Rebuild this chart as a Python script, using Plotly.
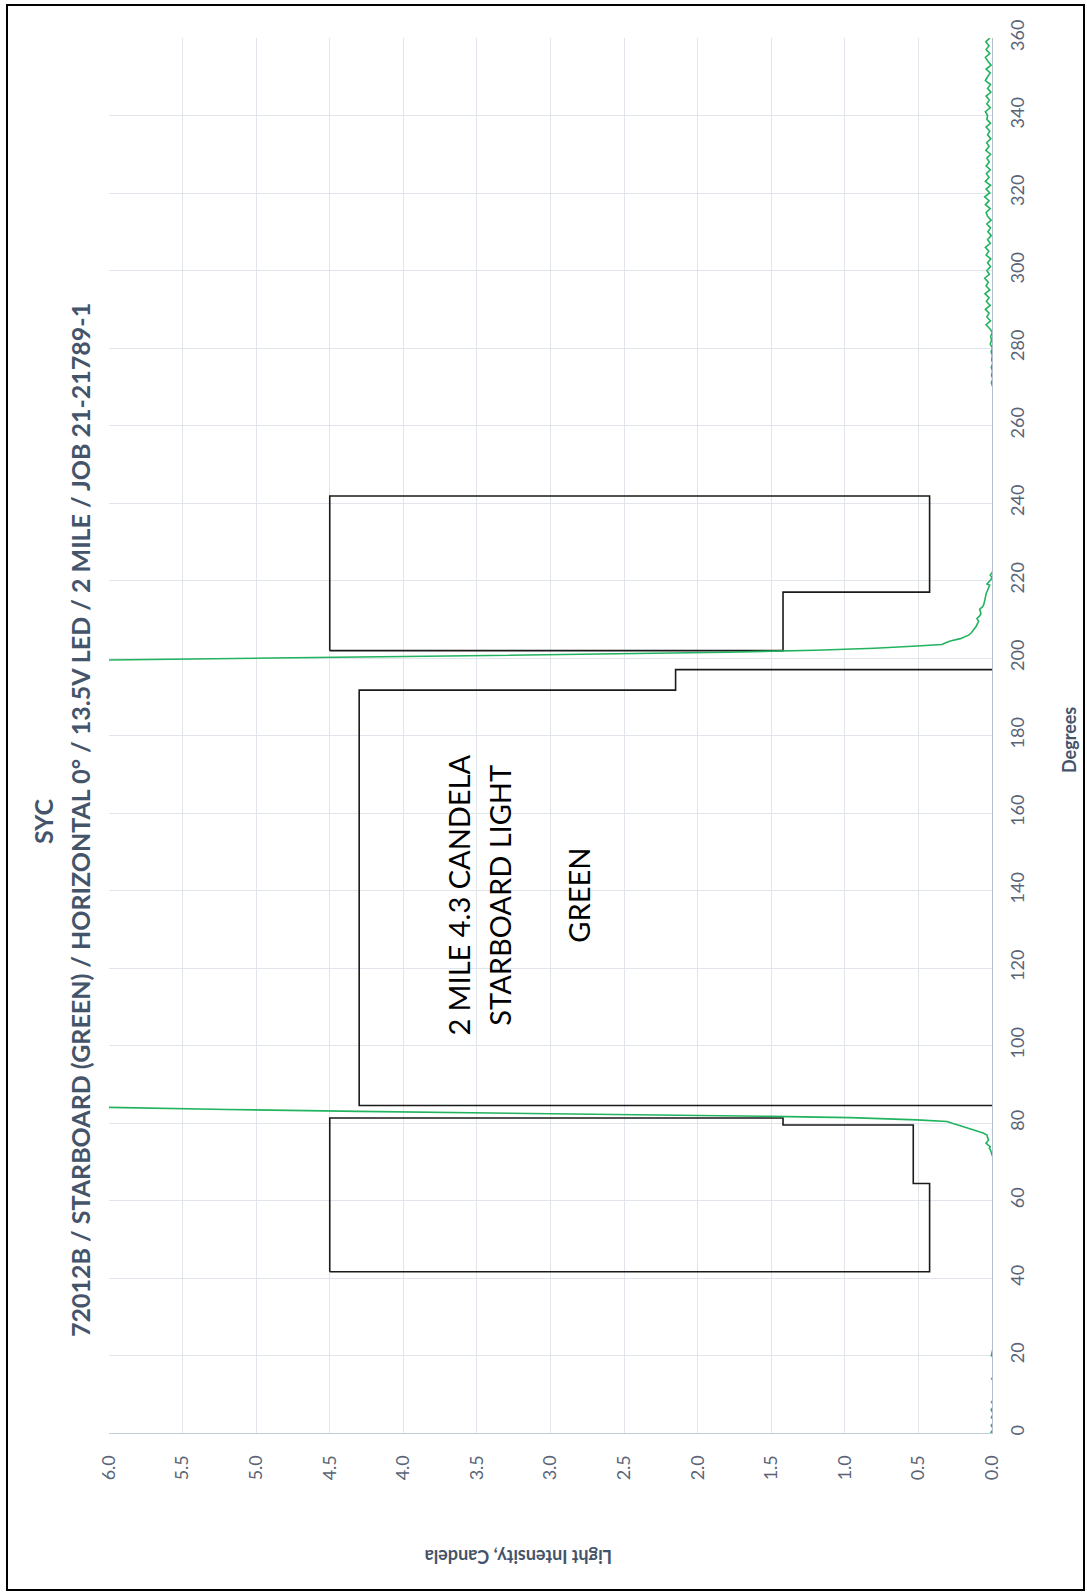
import plotly.graph_objects as go

# ---------------- data ----------------
# measured green light intensity (candela) vs. angle (degrees)
deg_start = [0, 1, 2, 3, 4, 5, 6, 7, 8, 9, 10, 11, 12, 13, 14, 15, 16, 17, 18, 19, 20]
int_start = [0.01, -0.01, 0.005, -0.02, 0.004, -0.01, 0.006, -0.015, 0.003, -0.02, -0.01,
             -0.02, -0.015, -0.02, 0.002, -0.02, -0.01, -0.02, -0.015, -0.02, 0.004]
deg_low_a = [24, 30, 38, 46, 54, 62, 68, 71]
int_low_a = [-0.02, -0.015, -0.02, -0.02, -0.018, -0.02, -0.015, -0.01]
deg_rise = [71.8, 72.5, 73.0, 73.5, 73.9, 74.4, 74.8, 75.3, 75.7, 76.2, 76.9, 77.4, 77.8,
            78.4, 79.0, 79.3, 79.8, 80.4, 80.8, 81.1, 81.4, 81.7, 82.0, 82.5, 83.0, 83.5,
            84.0, 84.4]
int_rise = [0.0, 0.005, 0.01, 0.018, 0.012, 0.03, 0.041, 0.03, 0.023, 0.03, 0.034, 0.06,
            0.091, 0.13, 0.18, 0.215, 0.26, 0.306, 0.51, 0.75, 0.963, 1.5, 2.2, 3.2, 4.3,
            5.2, 6.0, 7.2]
deg_mid = [86, 100, 120, 140, 160, 180, 196, 198.8]
int_mid = [9.0, 9.8, 10.3, 10.5, 10.4, 10.0, 9.4, 7.5]
deg_fall = [199.6, 200.0, 200.5, 201.0, 201.5, 202.0, 202.5, 203.1, 203.5, 204.0, 204.4,
            205.0, 205.5, 205.9, 206.5, 207.2, 207.7, 208.2, 208.8, 209.4, 210.2, 210.8,
            211.5, 212.0, 212.6, 213.2, 213.7, 214.7, 215.8, 216.6, 217.5, 218.2, 218.8,
            219.1, 219.6, 220.2, 220.8, 221.4, 222.0, 222.6]
int_fall = [6.0, 4.9, 3.7, 2.6, 1.8, 1.2, 0.8, 0.51, 0.34, 0.31, 0.283, 0.215, 0.18, 0.159,
            0.14, 0.125, 0.115, 0.107, 0.1, 0.091, 0.102, 0.085, 0.075, 0.078, 0.084, 0.065,
            0.057, 0.05, 0.046, 0.04, 0.03, 0.022, 0.016, 0.034, 0.02, 0.008, 0.0, 0.012,
            0.0, -0.01]
deg_low_b = [224, 230, 238, 246, 254, 262, 268]
int_low_b = [-0.02, -0.018, -0.02, -0.015, -0.02, -0.018, -0.015]
deg_tail = list(range(270, 361))
int_tail = [-0.005, 0.004, -0.006, 0.003, -0.004, 0.005, -0.005, 0.002, -0.003, 0.006,
            -0.004, 0.012, 0.003, 0.009, -0.002, 0.015, 0.04, 0.01, 0.035, 0.02,
            0.045, 0.012, 0.038, 0.02, 0.048, 0.015, 0.04, 0.025, 0.05, 0.018,
            0.035, 0.01, 0.03, 0.008, 0.04, 0.022, 0.045, 0.012, 0.03, 0.005,
            0.028, 0.01, 0.035, 0.006, 0.03, 0.04, 0.012, 0.045, 0.02, 0.05,
            0.015, 0.04, 0.01, 0.045, 0.02, 0.038, 0.012, 0.04, 0.018, 0.035,
            0.01, 0.042, 0.02, 0.036, 0.008, 0.03, 0.015, 0.04, 0.01, 0.035,
            0.03, 0.045, 0.012, 0.035, 0.018, 0.04, 0.008, 0.03, 0.01, 0.045,
            0.03, 0.012, 0.04, 0.006, 0.028, 0.045, 0.015, 0.04, 0.02, 0.042,
            0.015]

# requirement boundary lines (intensity, degrees)
req_min_int = [0.0, 4.3, 4.3, 2.15, 2.15, 0.0]
req_min_deg = [84.5, 84.5, 191.7, 191.7, 197.0, 197.0]
box_left_int = [4.5, 0.424, 0.424, 0.535, 0.535, 1.42, 1.42, 4.5, 4.5]
box_left_deg = [41.6, 41.6, 64.4, 64.4, 79.5, 79.5, 81.3, 81.3, 41.6]
box_right_int = [4.5, 1.42, 1.42, 0.424, 0.424, 4.5, 4.5]
box_right_deg = [201.9, 201.9, 217.0, 217.0, 241.8, 241.8, 201.9]

deg_ticks = list(range(0, 361, 20))
int_ticks = [0.0, 0.5, 1.0, 1.5, 2.0, 2.5, 3.0, 3.5, 4.0, 4.5, 5.0, 5.5, 6.0]

title_1 = "SYC"
title_2 = "72012B / STARBOARD (GREEN) / HORIZONTAL 0° / 13.5V LED / 2 MILE / JOB 21-21789-1"
note_lines = ["2 MILE 4.3 CANDELA", "STARBOARD LIGHT", "GREEN"]

# ---------------- figure ----------------
deg_all = deg_start + deg_low_a + deg_rise + deg_mid + deg_fall + deg_low_b + deg_tail
int_all = int_start + int_low_a + int_rise + int_mid + int_fall + int_low_b + int_tail

fig = go.Figure()
black = "#1a1a1a"
for xs, ys in [(box_left_int, box_left_deg), (req_min_int, req_min_deg),
               (box_right_int, box_right_deg)]:
    fig.add_trace(go.Scatter(x=xs, y=ys, mode="lines",
                             line=dict(color=black, width=1.6), showlegend=False,
                             hoverinfo="skip"))
fig.add_trace(go.Scatter(x=int_all, y=deg_all, mode="lines",
                         line=dict(color="#22b35e", width=1.6), showlegend=False))

W, H = 1087, 1596
L, R, T, B = 109, 95, 38, 163
pw, ph = W - L - R, H - T - B


def px(xp):
    return (xp - L) / pw


def py(yp):
    return (H - B - yp) / ph


tick_col = "#596476"
title_col = "#44546A"
font_main = "Lato"

fig.update_layout(
    width=W, height=H,
    margin=dict(l=L, r=R, t=T, b=B),
    paper_bgcolor="white", plot_bgcolor="white",
    font=dict(family=font_main, color=tick_col),
    xaxis=dict(range=[6, 0], tickvals=int_ticks, tickformat=".1f", tickangle=-90,
               showgrid=True, gridcolor="#e0e4eb", gridwidth=1, zeroline=False,
               showline=True, linecolor="#c3cbd8", linewidth=1, ticks="",
               tickfont=dict(size=18, color=tick_col, family=font_main),
               ticklabelstandoff=14),
    yaxis=dict(range=[0, 360], tickvals=deg_ticks, side="right", tickangle=-90,
               showgrid=True, gridcolor="#e0e4eb", gridwidth=1, zeroline=False,
               showline=True, linecolor="#b3bfd0", linewidth=1.2, ticks="",
               tickfont=dict(size=18, color=tick_col, family=font_main),
               ticklabelstandoff=9),
)

# outer frame
fig.add_shape(type="rect", xref="paper", yref="paper",
              x0=px(7), x1=px(1084), y0=py(1590), y1=py(5),
              line=dict(color="black", width=2), fillcolor="rgba(0,0,0,0)")

# titles (rotated)
fig.add_annotation(xref="paper", yref="paper", x=px(43), y=py(822), text=f"<b>{title_1}</b>",
                   textangle=-90, showarrow=False, xanchor="center", yanchor="middle",
                   font=dict(size=25, color=title_col, family=font_main))
fig.add_annotation(xref="paper", yref="paper", x=px(80), y=py(820), text=f"<b>{title_2}</b>",
                   textangle=-90, showarrow=False, xanchor="center", yanchor="middle",
                   font=dict(size=25, color=title_col, family=font_main))
# axis titles
fig.add_annotation(xref="paper", yref="paper", x=px(1069), y=py(740), text="<b>Degrees</b>",
                   textangle=-90, showarrow=False, xanchor="center", yanchor="middle",
                   font=dict(size=18, color=title_col, family=font_main))
fig.add_annotation(xref="paper", yref="paper", x=px(519), y=py(1557),
                   text="<b>Light Intensity, Candela</b>",
                   textangle=180, showarrow=False, xanchor="center", yanchor="middle",
                   font=dict(size=18, color=title_col, family=font_main))

# note text inside the plot
note_pos = [(3.628, 138.7), (3.349, 138.7), (2.812, 138.7)]
for txt, (xi, yd) in zip(note_lines, note_pos):
    fig.add_annotation(x=xi, y=yd, xref="x", yref="y", text=txt, textangle=-90,
                       showarrow=False, xanchor="center", yanchor="middle",
                       font=dict(size=29, color="black", family=font_main))

fig.write_html(
    "out.html",
    config={"displayModeBar": False},
    post_script="document.body.style.margin='0';document.body.style.padding='0';"
                "document.documentElement.style.overflow='hidden';"
                "document.body.style.overflow='hidden';",
)
